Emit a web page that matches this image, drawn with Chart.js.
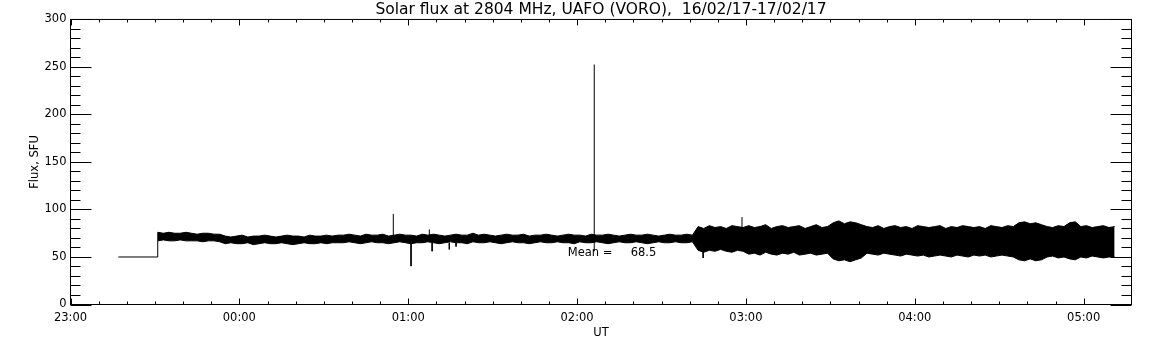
<!DOCTYPE html>
<html>
<head>
<meta charset="utf-8">
<script src="https://cdn.jsdelivr.net/npm/chart.js@4.4.1/dist/chart.umd.min.js"></script>
<style>
  body { margin: 0; background: #fff; }
  #wrap { width: 1152px; height: 345px; }
</style>
</head>
<body>
<div id="wrap"><canvas id="chart" width="1152" height="345"></canvas></div>
<script>
// Dados (x em minutos desde 23:00 UT)
const tickLabels = ['23:00', '00:00', '01:00', '02:00', '03:00', '04:00', '05:00'];
const meanFlux = 68.5;

// Trecho inicial a 50 SFU antes do início das medidas
const preMinutes = [17, 31, 31];
const preFlux = [50, 50, 76];

// Envelope do sinal: início, passo (min) e limites superior/inferior
const bandStart = 31;
const bandStep = 2;
const bandHigh = [
  76, 75, 76, 75, 75, 76, 75, 74, 75, 75, 74, 74,
  72, 71, 72, 73, 71, 72, 72, 73, 72, 71, 72, 73, 72, 72, 71, 73, 72, 72, 73, 72, 73,
  73, 74, 73, 72, 74, 73, 73, 74, 72, 73,
  74, 73, 73, 72, 74, 73, 74, 73, 72, 73,
  74, 73, 73, 75, 73, 74, 73, 72, 73, 74,
  73, 73, 74, 72, 73, 73, 74, 73, 72, 73,
  74, 73, 73, 72, 74, 73, 73, 74, 73, 72,
  73, 74, 73, 73, 74, 73, 72, 73, 74, 73,
  73, 74, 73,
  82, 80, 83, 81, 82, 80, 83, 82, 81,
  83, 81, 82, 84, 80, 82, 83, 81, 82, 83, 80, 82, 84, 81, 82,
  86, 88, 85, 87, 86, 84,
  82, 81, 83, 80, 82, 83, 81, 82, 80, 83, 82, 81, 82, 83, 80, 82, 81, 83, 82, 81, 82, 80, 83, 82, 81, 83, 82,
  86, 87, 85, 86, 84,
  82, 81, 83, 82,
  86, 87,
  82, 83, 81, 82, 83, 81, 82
];
const bandLow = [
  67, 68, 67, 67, 68, 67, 67, 67, 66, 67, 67, 66,
  64, 65, 64, 64, 65, 63, 64, 65, 64, 64, 65, 64, 63, 64, 65, 64, 64, 65, 64, 65, 65,
  65, 66, 65, 64, 65, 66, 65, 65, 64, 65,
  66, 65, 64, 65, 65, 66, 65, 64, 65, 66,
  65, 65, 64, 66, 65, 65, 66, 65, 64, 65,
  66, 65, 65, 64, 65, 66, 65, 65, 66, 65,
  65, 64, 66, 65, 65, 66, 65, 64, 65, 66,
  65, 65, 66, 65, 64, 65, 66, 65, 65, 66,
  65, 65, 66,
  57, 55, 57, 56, 58, 56, 55, 57, 56,
  53, 54, 52, 55, 53, 52, 54, 53, 55, 52, 53, 54, 52, 53, 54,
  48, 46, 47, 45, 47, 49,
  54, 53, 52, 54, 53, 52, 51, 53, 52, 51, 52, 50, 51, 52, 51, 50, 52, 51, 50, 52, 51, 52, 50, 51, 52, 51, 50,
  47, 46, 48, 46, 47,
  50, 51, 49, 50,
  48, 47,
  50, 49, 51, 50, 49, 50, 50
];

// Picos isolados: minuto, valor de base e valor extremo
const spikeMinutes = [114.7, 121, 127.5, 128.5, 134.6, 137, 186.1, 224.8, 238.6];
const spikeBase = [70, 66, 72, 65, 65, 65, 56, 60, 78];
const spikePeak = [95.4, 40.4, 79, 56, 58, 61, 252.6, 49, 92];

const bandHighPts = bandHigh.map((v, i) => ({ x: bandStart + i * bandStep, y: v }));
const bandLowPts = bandLow.map((v, i) => ({ x: bandStart + i * bandStep, y: v }));
const prePts = preMinutes.map((m, i) => ({ x: m, y: preFlux[i] }));
const spikePts = [];
spikeMinutes.forEach((m, i) => {
  spikePts.push({ x: m, y: spikeBase[i] }, { x: m, y: spikePeak[i] }, { x: m, y: null });
});

const font = { family: 'DejaVu Sans', size: 11.5 };

// Caixa, marcas internas (estilo IDL) e texto da média
const idlAxes = {
  id: 'idlAxes',
  afterDraw(chart) {
    const { ctx, chartArea: a, scales: { x, y } } = chart;
    ctx.save();
    ctx.strokeStyle = '#000';
    ctx.lineWidth = 1;
    ctx.strokeRect(a.left, a.top, a.right - a.left, a.bottom - a.top);
    ctx.beginPath();
    x.ticks.forEach(t => {
      if (t.value % 10 !== 0) return;
      const px = Math.round(x.getPixelForValue(t.value)) + 0.5;
      const len = t.value % 60 === 0 ? 6 : 3;
      ctx.moveTo(px, a.bottom); ctx.lineTo(px, a.bottom - len);
      ctx.moveTo(px, a.top); ctx.lineTo(px, a.top + len);
    });
    y.ticks.forEach(t => {
      const py = Math.round(y.getPixelForValue(t.value)) + 0.5;
      const len = t.value % 50 === 0 ? 21 : 10;
      ctx.moveTo(a.left, py); ctx.lineTo(a.left + len, py);
      ctx.moveTo(a.right, py); ctx.lineTo(a.right - len, py);
    });
    ctx.stroke();
    ctx.fillStyle = '#000';
    ctx.font = '11.5px "DejaVu Sans"';
    ctx.textBaseline = 'middle';
    ctx.fillText('Mean =     ' + meanFlux.toFixed(1), x.getPixelForValue(176.7), y.getPixelForValue(54));
    ctx.restore();
  }
};

const ctx = document.getElementById('chart').getContext('2d');
new Chart(ctx, {
  type: 'line',
  data: {
    datasets: [
      { data: prePts, borderColor: '#000', borderWidth: 1, pointRadius: 0, fill: false },
      { data: bandHighPts, borderColor: '#000', borderWidth: 1, pointRadius: 0, fill: false },
      { data: bandLowPts, borderColor: '#000', backgroundColor: '#000', borderWidth: 1, pointRadius: 0, fill: '-1' },
      { data: spikePts, borderColor: '#000', borderWidth: 1, pointRadius: 0, spanGaps: false, fill: false }
    ]
  },
  options: {
    responsive: false,
    animation: false,
    layout: { padding: { left: 0, right: 20.5, top: 0, bottom: 0 } },
    plugins: {
      legend: { display: false },
      tooltip: { enabled: false },
      title: {
        display: true,
        fullSize: false,
        text: 'Solar flux at 2804 MHz, UAFO (VORO),  16/02/17-17/02/17',
        color: '#000',
        font: { family: 'DejaVu Sans', size: 15.5, weight: 'normal', lineHeight: 1.1 },
        padding: { top: 1, bottom: 1.4 }
      }
    },
    scales: {
      x: {
        type: 'linear',
        min: 0,
        max: 377,
        grid: { display: false, drawTicks: false },
        border: { display: false },
        ticks: {
          stepSize: 10,
          autoSkip: false,
          maxRotation: 0,
          minRotation: 0,
          padding: 6.5,
          color: '#000',
          font: font,
          callback: v => (v % 60 === 0 ? tickLabels[v / 60] : '')
        },
        title: { display: true, text: 'UT', color: '#000', font: font, padding: { top: 0, bottom: 5.5 } },
        afterFit: s => { s.height = 40.5; }
      },
      y: {
        min: 0,
        max: 300,
        grid: { display: false, drawTicks: false },
        border: { display: false },
        ticks: {
          stepSize: 10,
          autoSkip: false,
          padding: 4,
          color: '#000',
          font: font,
          callback: v => (v % 50 === 0 ? v : '')
        },
        title: { display: true, text: 'Flux, SFU', color: '#000', font: font, padding: { top: 28, bottom: 0 } },
        afterFit: s => { s.width = 70.5; }
      }
    }
  },
  plugins: [idlAxes]
});
</script>
</body>
</html>
